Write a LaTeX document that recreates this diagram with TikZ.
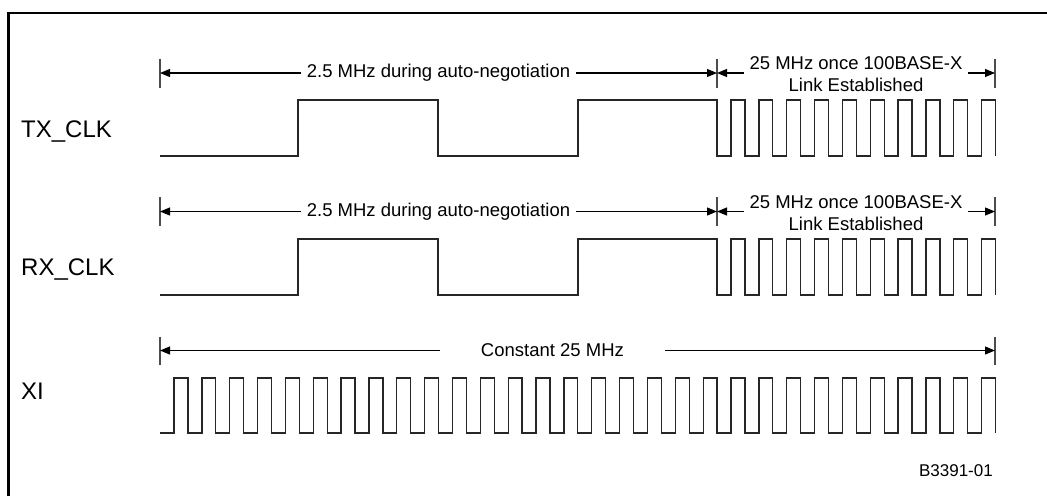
\documentclass[tikz,border=0pt]{standalone}
\usepackage{fontspec}
\setmainfont{Liberation Sans}
\usetikzlibrary{arrows.meta}

\begin{document}
\begin{tikzpicture}[x=1pt,y=-1pt,
  wave/.style={line width=1.3pt,draw=black!85,line join=miter},
  dim/.style={line width=1.1pt,{Triangle[length=10pt,width=8pt]}-{Triangle[length=10pt,width=8pt]}},
  tick/.style={line width=1.1pt,draw=black!70},
  sig/.style={font=\fontsize{24}{28}\selectfont,anchor=base west,inner sep=0pt},
  note/.style={font=\fontsize{18.5}{22}\selectfont,fill=white,inner ysep=2pt,inner xsep=5.5pt,align=center}]
\useasboundingbox (0,0) rectangle (1047,496);
% frame (only top and left edges show)
\draw[line width=2.7pt] (8.7,496) -- (8.7,13) -- (1047,13);
% signal names
\node[sig] (txlbl) at (21,137) {TX\_CLK};
\node[sig] (rxlbl) at (21,275) {RX\_CLK};
\node[sig] (xilbl) at (21,399) {XI};
\node[font=\fontsize{17}{20}\selectfont,anchor=base east,inner sep=0pt] (figid) at (993,476) {B3391-01};
% TX_CLK and RX_CLK
\foreach \n/\lo/\ar in {tx/156/73,rx/295/211.5}{
  \coordinate (\n a) at (160,\ar);
  \coordinate (\n b) at (717,\ar);
  \coordinate (\n c) at (995,\ar);
  \foreach \p in {a,b,c}
    \draw[tick] (\n\p) ++(0,-14.5) -- ++(0,29);
  \draw[dim] (\n a) -- node[note] {2.5 MHz during auto-negotiation} (\n b);
  \draw[dim] (\n b) -- node[note,yshift=-1.5pt] {25 MHz once 100BASE-X\\Link Established} (\n c);
  \draw[wave] (160,\lo) -- (298,\lo) -- (298,\lo-56) -- (438,\lo-56) -- (438,\lo)
    -- (578,\lo) -- (578,\lo-56) -- (717,\lo-56) -- (717,\lo)
    \foreach \k in {20,...,29}{
      -- ({174+27.85*\k},\lo) -- ++(0,-56) -- ++(13.93,0) -- ++(0,56)
    };
}
% XI
\coordinate (xia) at (160,350.5);
\coordinate (xic) at (995,350.5);
\foreach \p in {xia,xic}
  \draw[tick] (\p) ++(0,-14) -- ++(0,28);
\draw[dim] (xia) -- node[note,pos=0.47,inner xsep=41pt] {Constant 25 MHz} (xic);
\draw[wave] (160,433)
  \foreach \k in {0,...,29}{
    -- ({174+27.85*\k},433) -- ++(0,-55) -- ++(13.93,0) -- ++(0,55)
  };
\end{tikzpicture}
\end{document}
